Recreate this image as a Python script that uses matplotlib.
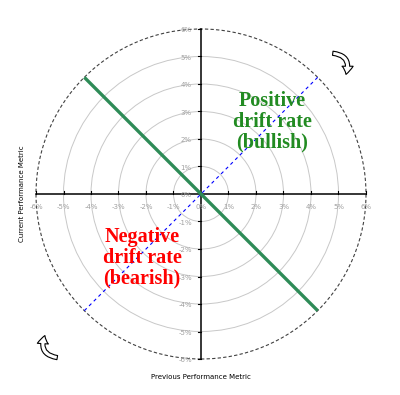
import numpy as np
import matplotlib
matplotlib.use("Agg")
import matplotlib.pyplot as plt
from matplotlib.patches import Circle, FancyArrowPatch

# chart values
tick_vals = [-6, -5, -4, -3, -2, -1, 0, 1, 2, 3, 4, 5, 6]
tick_labels = ["%d%%" % v for v in tick_vals]
ring_radii = [1, 2, 3, 4, 5]
outer_radius = 6
bull_angle = 135   # green drift line (degrees)
bear_angle = 45    # blue dashed diagonal
bull_text = "Positive\ndrift rate\n(bullish)"
bear_text = "Negative\ndrift rate\n(bearish)"
x_title = "Previous Performance Metric"
y_title = "Current Performance Metric"

W, H = 400, 395
cx, cy, scale = 201, 194, 27.5


def px(x, y):
    # pixel (from top-left) -> data units
    return (x - cx) / scale, (cy - y) / scale


fig = plt.figure(figsize=(W / 100, H / 100), dpi=100)
ax = fig.add_axes([0, 0, 1, 1])
x0, y0 = px(0, H)
x1, y1 = px(W, 0)
ax.set_xlim(x0, x1)
ax.set_ylim(y0, y1)
ax.axis("off")

for r in ring_radii:
    ax.add_patch(Circle((0, 0), r, fill=False, ec="#c8c8c8", lw=0.7, zorder=1))
ax.add_patch(Circle((0, 0), outer_radius, fill=False, ec="#404040", lw=0.8,
                    ls=(0, (3, 2)), zorder=2))

# axes through the centre
ax.plot([-outer_radius, outer_radius], [0, 0], color="black", lw=1.1, zorder=3)
ax.plot([0, 0], [-outer_radius, outer_radius], color="black", lw=1.1, zorder=3)
for v in tick_vals:
    if v == 0:
        continue
    ax.plot([v, v], [0, 0.1], color="black", lw=0.8, zorder=3)
    ax.plot([-0.12, 0], [v, v], color="black", lw=0.8, zorder=3)

for v, lab in zip(tick_vals, tick_labels):
    ax.text(v, -0.47, lab, fontsize=5, color="#a0a0a0", ha="center", va="center", zorder=4)
    ax.text(-0.55, v - 0.05, lab, fontsize=5, color="#a0a0a0", ha="center", va="center", zorder=4)

# diagonal lines
a = np.deg2rad(bull_angle)
ax.plot([outer_radius * np.cos(a), -outer_radius * np.cos(a)],
        [outer_radius * np.sin(a), -outer_radius * np.sin(a)],
        color="#2e8b57", lw=2.4, zorder=5, solid_capstyle="butt")
b = np.deg2rad(bear_angle)
ax.plot([outer_radius * np.cos(b), -outer_radius * np.cos(b)],
        [outer_radius * np.sin(b), -outer_radius * np.sin(b)],
        color="blue", lw=0.8, ls=(0, (3, 3)), zorder=4)

ax.text(*px(272, 122), bull_text, color="#228b22", fontsize=14.5, fontweight="bold",
        family="Liberation Serif", ha="center", va="center", linespacing=1.05, zorder=6)
ax.text(*px(142, 258), bear_text, color="red", fontsize=14.5, fontweight="bold",
        family="Liberation Serif", ha="center", va="center", linespacing=1.05, zorder=6)

ax.text(*px(201, 377), x_title, fontsize=5, ha="center", va="center")
ax.text(*px(22, 194), y_title, fontsize=5, ha="center", va="center", rotation=90)

# rotation arrows
for start, end, rad in [((330, 53), (345, 77), -0.7), ((60, 358), (46, 333), -0.7)]:
    arr = FancyArrowPatch(px(*start), px(*end), connectionstyle="arc3,rad=%s" % rad,
                          arrowstyle="simple,head_length=6,head_width=8,tail_width=3",
                          fc="white", ec="black", lw=0.8, zorder=6)
    ax.add_patch(arr)

fig.savefig("out.png", dpi=100)
